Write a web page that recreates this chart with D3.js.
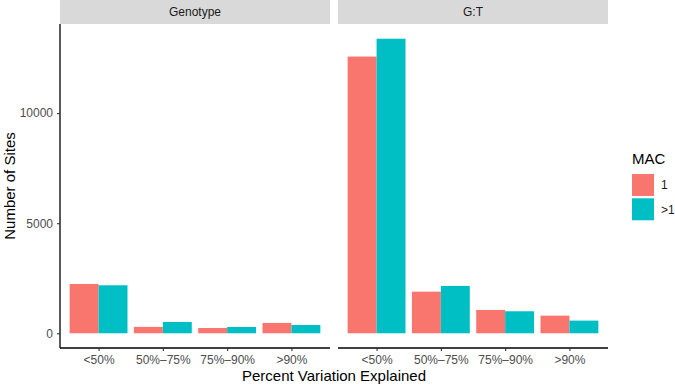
<!DOCTYPE html>
<html>
<head>
<meta charset="utf-8">
<script src="https://cdn.jsdelivr.net/npm/d3@7"></script>
<style>
  body { margin: 0; background: #fff; }
  text { font-family: "Liberation Sans", Arial, sans-serif; }
</style>
</head>
<body>
<svg id="chart"></svg>
<script>
const width = 675, height = 385;

// data
const panels = ['Genotype', 'G:T'];
const categories = ['<50%', '50%\u201375%', '75%\u201390%', '>90%'];
const groups = ['1', '>1'];
const genotypeMac1 = [2240, 290, 240, 470];
const genotypeMacGt1 = [2180, 515, 285, 375];
const gtMac1 = [12570, 1890, 1060, 800];
const gtMacGt1 = [13380, 2150, 1000, 575];

const seriesByPanel = {
  'Genotype': [genotypeMac1, genotypeMacGt1],
  'G:T': [gtMac1, gtMacGt1]
};
const colors = ['#F8766D', '#00BFC4'];

const svg = d3.select('#chart').attr('width', width).attr('height', height);

const plotTop = 24, plotBottom = 348;
const panelX = { 'Genotype': [60, 330], 'G:T': [338, 608] };

const maxVal = d3.max([...gtMac1, ...gtMacGt1, ...genotypeMac1, ...genotypeMacGt1]);
const pad = maxVal * 0.05;
const y = d3.scaleLinear().domain([-pad, maxVal + pad]).range([plotBottom, plotTop]);

const color = d3.scaleOrdinal().domain(groups).range(colors);

panels.forEach((p, pi) => {
  const [x0, x1] = panelX[p];
  const x = d3.scalePoint().domain(categories).range([x0, x1]).padding(0.6);
  const step = x.step();
  const sub = d3.scaleBand().domain(groups).range([-step * 0.45, step * 0.45]);

  // strip
  svg.append('rect')
    .attr('x', x0).attr('y', 0)
    .attr('width', x1 - x0).attr('height', plotTop)
    .attr('fill', '#D9D9D9');
  svg.append('text')
    .attr('x', (x0 + x1) / 2).attr('y', plotTop / 2)
    .attr('dy', '0.35em')
    .attr('text-anchor', 'middle')
    .attr('font-size', 12)
    .attr('fill', '#1A1A1A')
    .text(p);

  // bars
  const rows = [];
  seriesByPanel[p].forEach((vals, gi) => {
    vals.forEach((v, ci) => rows.push({ cat: categories[ci], grp: groups[gi], v }));
  });
  svg.append('g').selectAll('rect')
    .data(rows)
    .enter()
    .append('rect')
    .attr('x', d => x(d.cat) + sub(d.grp))
    .attr('y', d => y(d.v))
    .attr('width', sub.bandwidth())
    .attr('height', d => y(0) - y(d.v))
    .attr('fill', d => color(d.grp));

  // x axis
  const xAxis = svg.append('g')
    .attr('transform', `translate(0,${plotBottom})`)
    .call(d3.axisBottom(x).tickSize(3).tickPadding(4).tickSizeOuter(0));
  xAxis.select('.domain').attr('d', `M${x0},0H${x1}`).attr('stroke', '#000').attr('stroke-width', 1.3);
  xAxis.selectAll('.tick line').attr('stroke', '#333').attr('stroke-width', 1.1);
  xAxis.selectAll('.tick text')
    .attr('font-size', 12)
    .attr('fill', '#4D4D4D')
    .style('font-family', '"Liberation Sans", Arial, sans-serif');

  // y axis only on first panel
  if (pi === 0) {
    const yAxis = svg.append('g')
      .attr('transform', `translate(${x0},0)`)
      .call(d3.axisLeft(y).tickValues([0, 5000, 10000]).tickFormat(d3.format('d')).tickSize(3).tickPadding(4).tickSizeOuter(0));
    yAxis.select('.domain').attr('d', `M0,${plotTop}V${plotBottom}`).attr('stroke', '#000').attr('stroke-width', 1.3);
    yAxis.selectAll('.tick line').attr('stroke', '#333').attr('stroke-width', 1.1);
    yAxis.selectAll('.tick text')
      .attr('font-size', 12)
      .attr('fill', '#4D4D4D')
      .style('font-family', '"Liberation Sans", Arial, sans-serif');
  }
});

// axis titles
svg.append('text')
  .attr('x', (60 + 608) / 2).attr('y', 381)
  .attr('text-anchor', 'middle')
  .attr('font-size', 15)
  .text('Percent Variation Explained');

svg.append('text')
  .attr('transform', `translate(15,${(plotTop + plotBottom) / 2}) rotate(-90)`)
  .attr('text-anchor', 'middle')
  .attr('font-size', 15)
  .text('Number of Sites');

// legend
const legend = svg.append('g').attr('transform', 'translate(632,0)');
legend.append('text')
  .attr('x', 0).attr('y', 164)
  .attr('font-size', 15)
  .text('MAC');
groups.forEach((g, i) => {
  legend.append('rect')
    .attr('x', 0).attr('y', 174 + i * 24.3)
    .attr('width', 22).attr('height', 22)
    .attr('fill', color(g));
  legend.append('text')
    .attr('x', 29).attr('y', 174 + i * 24.3 + 11)
    .attr('dy', '0.35em')
    .attr('font-size', 12)
    .attr('fill', '#1A1A1A')
    .text(g);
});
</script>
</body>
</html>
